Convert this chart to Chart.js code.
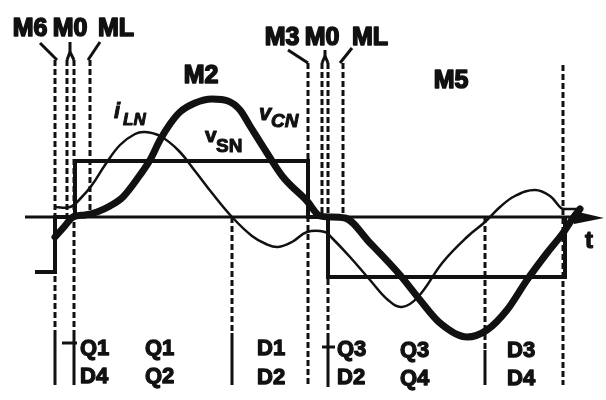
<!DOCTYPE html>
<html>
<head>
<meta charset="utf-8">
<script src="https://cdn.jsdelivr.net/npm/chart.js@4/dist/chart.umd.min.js"></script>
<style>
html,body{margin:0;padding:0;background:#fff;}
#wrap{width:606px;height:400px;}
</style>
</head>
<body>
<div id="wrap"><canvas id="c" width="606" height="400"></canvas></div>
<script>
// ---- data (time units along t, signal units up; axis at 0) ----
const vcnT = [55,64,73,85,97,110,123,140,150,160,170,180,195,212,228,240,250,267,283,307,320,330,345,370,400,420,440,467,487,507,527,547,563,573,580];
const vcnV = [-20,-10,0,2,5,11,20,42,57,77,93,105,114,118,116,107,91,64,40,16,1,0,-1,-26,-58,-83,-106,-120,-113,-93,-63,-36,-16,-1,8];

const ilnT = [55,70,80,92,105,120,135,145,160,178,195,212,232,252,266,278,292,307,325,332,350,370,388,402,418,443,467,485,500,515,535,550,561,566,582];
const ilnV = [10,10,18,32,52,72,83,85,81,67,46,24,0,-19,-27,-30,-25,-15,-15,-21,-40,-63,-83,-90,-80,-45,-20,-5,10,21,27,21,9,8,8];

const vsnT = [35,55,55,75,75,308,308,328,328,565,565];
const vsnV = [-55,-55,0,0,56,56,0,0,-60,-60,0];

const axisT = [25,580];

const markerTimes  = [55,67,74,90,232,308,322,328,343,485,563];
const markerTop    = [157,157,157,157,0,154,154,154,154,0,152];
const markerDashTo = [-118,0,-118,0,-116,-168,0,-116,0,-133,-168];
const markerSolidTo= [-168,null,-168,null,-168,null,null,-170,null,-168,null];

const modeLabels = ['M6','M0','ML','M3','M0','ML','M2','M5'];
const switchLabels = ['Q1','D4','Q1','Q2','D1','D2','Q3','D2','Q3','Q4','D3','D4'];

// ---- layout (not data) ----
const modePos = [[30,181],[70,181],[116,181],[282,172],[322,172],[370,172],[201,134],[451,129]];
const switchPos = [[80,-138],[80,-166],[145,-138],[145,-166],[257,-138],[257,-167],[337,-139],[337,-167],[400,-140],[400,-168],[507,-140],[507,-168]];
const leaders = [
  [[40,174],[57,157]],
  [[70,175],[70,165]],[[70,165],[67,157]],[[70,165],[74,157]],
  [[100,175],[88,157]],
  [[288,167],[308,154]],
  [[325,167],[325,161]],[[325,161],[322,154]],[[325,161],[328,154]],
  [[352,169],[340,154]],
  [[62,-126],[77,-126]],
  [[322,-130],[335,-130]]
];

const pts = (t,v)=>t.map((x,i)=>({x:x,y:v[i]}));
const INK = '#111';

const datasets = [];
datasets.push({data:pts(vcnT,vcnV),borderColor:INK,borderWidth:7,cubicInterpolationMode:'monotone',pointRadius:0,borderCapStyle:'round',borderJoinStyle:'round'});
datasets.push({data:pts(ilnT,ilnV),borderColor:INK,borderWidth:2.5,tension:0.4,pointRadius:0});
datasets.push({data:pts(vsnT,vsnV),borderColor:INK,borderWidth:4,tension:0,pointRadius:0,borderJoinStyle:'miter'});
datasets.push({data:axisT.map(x=>({x:x,y:0})),borderColor:INK,borderWidth:3,tension:0,pointRadius:0});
markerTimes.forEach((t,i)=>{
  datasets.push({data:[{x:t,y:markerTop[i]},{x:t,y:markerDashTo[i]}],borderColor:INK,borderWidth:3,borderDash:[6,3],tension:0,pointRadius:0});
  if(markerSolidTo[i]!==null){
    datasets.push({data:[{x:t,y:markerDashTo[i]},{x:t,y:markerSolidTo[i]}],borderColor:INK,borderWidth:3,tension:0,pointRadius:0});
  }
});
leaders.forEach(seg=>{
  datasets.push({data:seg.map(p=>({x:p[0],y:p[1]})),borderColor:INK,borderWidth:3,tension:0,pointRadius:0});
});

const textPlugin = {
  id:'texts',
  afterDatasetsDraw(chart){
    const ctx = chart.ctx, sx = chart.scales.x, sy = chart.scales.y;
    const X = v=>sx.getPixelForValue(v), Y = v=>sy.getPixelForValue(v);
    const put = (s,x,y,w)=>{ctx.lineWidth=w;ctx.strokeText(s,X(x),Y(y));ctx.fillText(s,X(x),Y(y));};
    ctx.save();
    ctx.fillStyle = INK;
    ctx.strokeStyle = INK;
    ctx.lineJoin = 'round';
    // arrow head
    ctx.beginPath();
    ctx.moveTo(X(574),Y(6));
    ctx.lineTo(X(604),Y(-1));
    ctx.lineTo(X(574),Y(-7));
    ctx.closePath();
    ctx.fill();
    // mode labels
    ctx.font = 'bold 25px "Liberation Sans", Arial, sans-serif';
    ctx.textAlign = 'center';
    ctx.textBaseline = 'alphabetic';
    modeLabels.forEach((s,i)=>put(s,modePos[i][0],modePos[i][1],1.6));
    // switch labels
    ctx.font = 'bold 22px "Liberation Sans", Arial, sans-serif';
    ctx.textAlign = 'left';
    switchLabels.forEach((s,i)=>put(s,switchPos[i][0],switchPos[i][1],1.3));
    // t
    ctx.font = 'bold 24px "Liberation Sans", Arial, sans-serif';
    put('t',585,-31,1.2);
    // curve labels
    ctx.font = 'italic bold 22px "Liberation Sans", Arial, sans-serif';
    put('i',114,99,1);
    ctx.font = 'italic bold 17px "Liberation Sans", Arial, sans-serif';
    put('LN',123,92,1);
    ctx.font = 'bold 21px "Liberation Sans", Arial, sans-serif';
    put('v',205,75,1);
    ctx.font = 'bold 19px "Liberation Sans", Arial, sans-serif';
    put('SN',216,65,1);
    ctx.font = 'italic bold 22px "Liberation Sans", Arial, sans-serif';
    put('v',259,97,1);
    ctx.font = 'italic bold 19px "Liberation Sans", Arial, sans-serif';
    put('CN',271,90,1);
    ctx.restore();
  }
};

new Chart(document.getElementById('c'),{
  type:'scatter',
  data:{datasets:datasets.map(d=>Object.assign({showLine:true,fill:false},d))},
  options:{
    responsive:false,
    devicePixelRatio:1,
    animation:false,
    layout:{padding:0},
    plugins:{legend:{display:false},tooltip:{enabled:false}},
    scales:{
      x:{type:'linear',min:0,max:606,display:false},
      y:{type:'linear',min:-183,max:217,display:false}
    }
  },
  plugins:[textPlugin]
});
</script>
</body>
</html>
